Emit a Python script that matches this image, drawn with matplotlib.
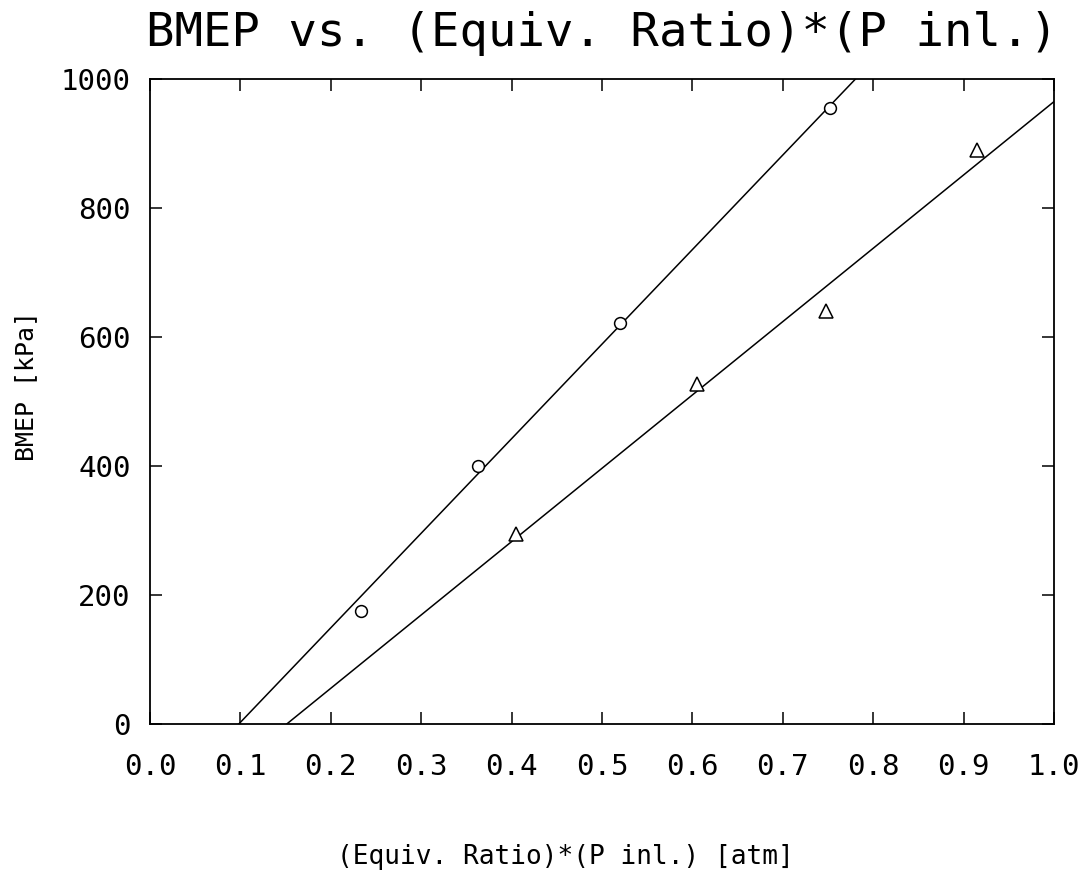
"""BMEP vs. (Equiv. Ratio)*(P inl.) recreation."""

import matplotlib
import matplotlib.pyplot as plt
import numpy as np

matplotlib.use("agg")

# Data
circle_x = [0.233, 0.363, 0.520, 0.752]
circle_y = [175, 400, 622, 955]
triangle_x = [0.405, 0.605, 0.748, 0.915]
triangle_y = [295, 527, 641, 890]

# Fitted lines (slope, intercept)
circle_fit = (1466.0, -144.0)
triangle_fit = (1137.0, -172.0)

x_ticks = [0.0, 0.1, 0.2, 0.3, 0.4, 0.5, 0.6, 0.7, 0.8, 0.9, 1.0]
y_ticks = [0, 200, 400, 600, 800, 1000]

font = "DejaVu Sans Mono"
plt.rcParams["font.family"] = font

fig = plt.figure(figsize=(10.88, 8.71), dpi=100)
ax = fig.add_axes([0.1379, 0.1688, 0.8309, 0.7405])

# Fit lines, clipped to the axes
xs = np.linspace(0.0, 1.0, 200)
for slope, icpt in (circle_fit, triangle_fit):
    ax.plot(xs, slope * xs + icpt, color="black", linewidth=1.1, zorder=2)

ax.plot(circle_x, circle_y, linestyle="none", marker="o", markersize=8.5,
        markerfacecolor="white", markeredgecolor="black", markeredgewidth=1.1, zorder=3)
ax.plot(triangle_x, triangle_y, linestyle="none", marker="^", markersize=10,
        markerfacecolor="white", markeredgecolor="black", markeredgewidth=1.1, zorder=3)

ax.set_xlim(0.0, 1.0)
ax.set_ylim(0, 1000)
ax.set_xticks(x_ticks)
ax.set_xticklabels([f"{v:.1f}" for v in x_ticks])
ax.set_yticks(y_ticks)
ax.set_yticklabels([str(v) for v in y_ticks])

for spine in ax.spines.values():
    spine.set_linewidth(1.3)

ax.tick_params(axis="both", direction="in", length=8.5, width=1.1,
               top=True, right=True)
ax.tick_params(axis="x", labelsize=21, pad=21)
ax.tick_params(axis="y", labelsize=21, pad=14)

# Axis labels sit a little off-centre in the original
ax.set_xlabel("(Equiv. Ratio)*(P inl.) [atm]", fontsize=18.8, labelpad=45)
ax.xaxis.label.set_x(0.459)
ax.set_ylabel("BMEP [kPa]", fontsize=18, labelpad=16)
ax.yaxis.label.set_y(0.524)
ax.set_title("BMEP vs. (Equiv. Ratio)*(P inl.)", fontsize=34, pad=24)

fig.savefig("out.png", dpi=100, facecolor="white")
